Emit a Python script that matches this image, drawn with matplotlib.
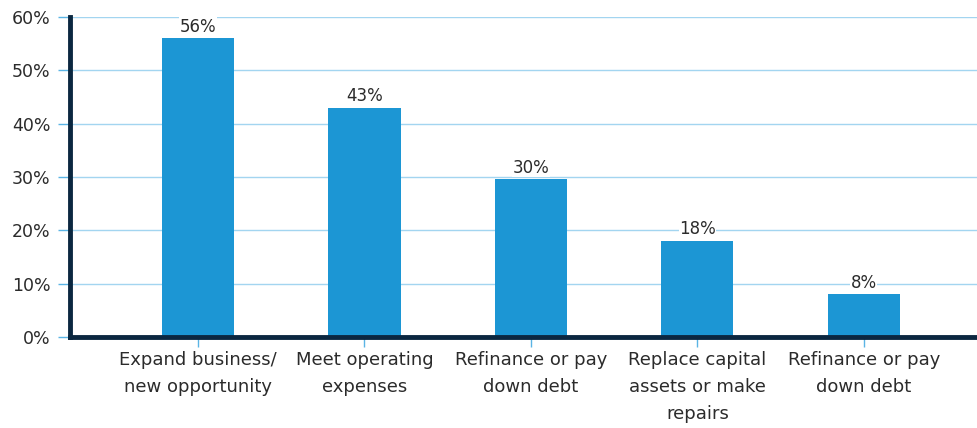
import numpy as np
import matplotlib.pyplot as plt

categories = ['Expand business/\nnew opportunity', 'Meet operating\nexpenses',
              'Refinance or pay\ndown debt', 'Replace capital\nassets or make\nrepairs',
              'Refinance or pay\ndown debt']
values = [56, 43, 29.6, 18, 8]
yticks = [0, 10, 20, 30, 40, 50, 60]

plt.rcParams['font.family'] = ['DejaVu Sans']

fig = plt.figure(figsize=(9.77, 4.28), dpi=100)
ax = fig.add_axes([0.0717, 0.2126, 0.9283, 0.7474])

x = np.arange(len(categories))
bars = ax.bar(x, values, width=0.433, color='#1c96d4', zorder=3)
for b, v in zip(bars, values):
    ax.text(b.get_x() + b.get_width() / 2, v + 0.5, f'{v:.0f}%', ha='center', va='bottom',
            fontsize=12, color='#2b2b2b', zorder=4,
            bbox=dict(facecolor='white', edgecolor='none', pad=0.3))

ax.set_xlim(-0.769, 4.68)
ax.set_ylim(0, 60)
ax.set_yticks(yticks)
ax.set_yticklabels([f'{t}%' for t in yticks], fontsize=12.5, color='#2b2b2b')
ax.set_xticks(x)
ax.set_xticklabels(categories, fontsize=13, color='#2b2b2b', linespacing=1.65)

ax.grid(axis='y', color='#a3d5f0', linewidth=1, zorder=0)
ax.tick_params(axis='y', length=9, width=1, color='#5ab4e5', pad=5)
ax.tick_params(axis='x', length=7, width=1, color='#5ab4e5', pad=3)

for s in ['top', 'right']:
    ax.spines[s].set_visible(False)
for s in ['left', 'bottom']:
    ax.spines[s].set_color('#0b2740')
    ax.spines[s].set_linewidth(3.5)
    ax.spines[s].set_zorder(5)

fig.savefig('out.png', dpi=100)
